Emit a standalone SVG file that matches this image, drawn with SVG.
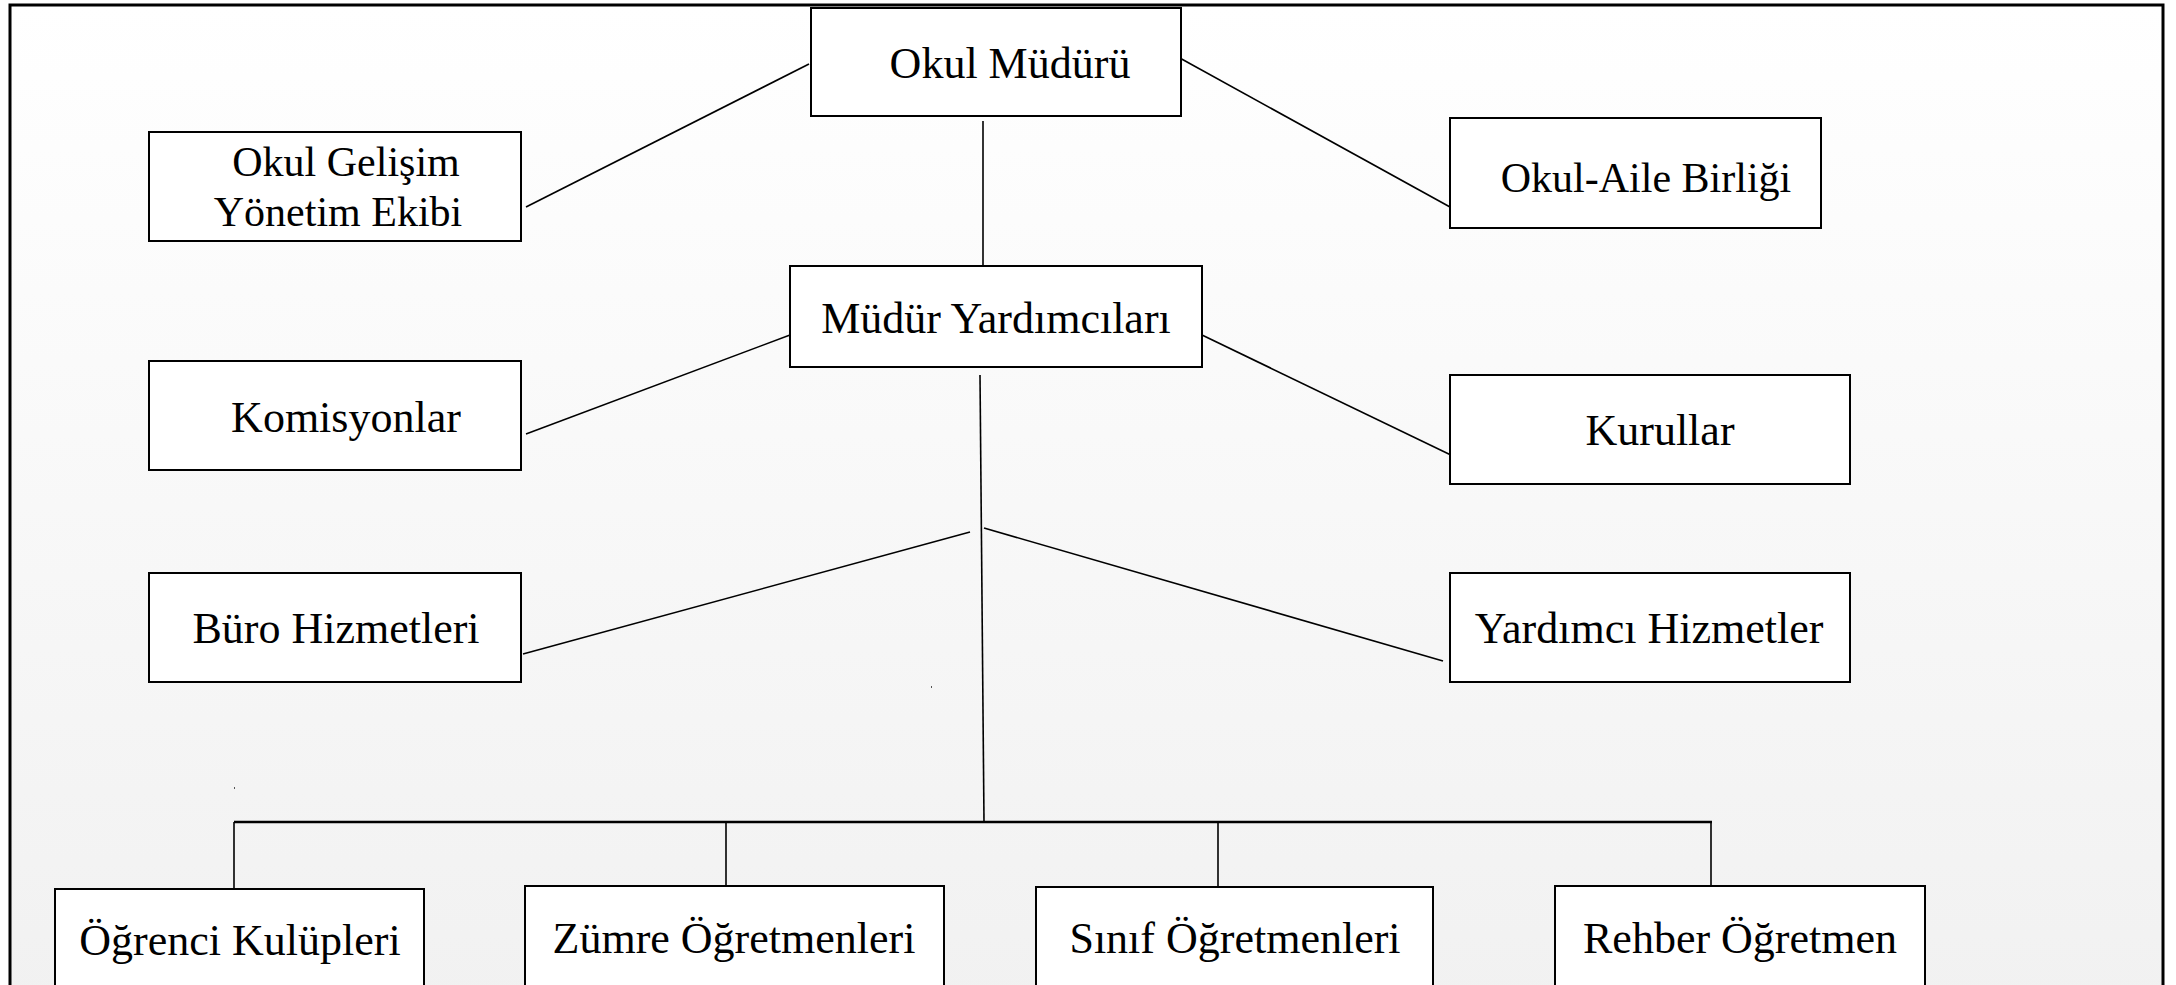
<svg xmlns="http://www.w3.org/2000/svg" width="2176" height="985" viewBox="0 0 2176 985">
<defs>
<linearGradient id="bg" x1="0" y1="0" x2="0" y2="1">
<stop offset="0" stop-color="#ffffff"/>
<stop offset="1" stop-color="#f1f1f1"/>
</linearGradient>
<style>
.box{fill:#ffffff;stroke:#000000;stroke-width:2}
.lbl{font-family:"Liberation Serif","Times New Roman",serif;font-size:44px;fill:#000000;text-anchor:middle}
.ln{stroke:#000000;stroke-width:1.6;fill:none}
.bus{stroke:#000000;stroke-width:2.4;fill:none}
</style>
</defs>
<rect x="0" y="0" width="2176" height="985" fill="#ffffff"/>
<rect id="frame" x="10" y="5" width="2153" height="1000" fill="url(#bg)" stroke="#000000" stroke-width="3"/>
<g id="connectors">
<line class="ln" x1="809" y1="64" x2="526" y2="207"/>
<line class="ln" x1="1178" y1="57" x2="1450" y2="207"/>
<line class="ln" x1="983" y1="121" x2="983" y2="266"/>
<line class="ln" x1="790" y1="335" x2="526" y2="434"/>
<line class="ln" x1="1202" y1="335" x2="1455" y2="457"/>
<line class="ln" x1="980" y1="375" x2="984" y2="822"/>
<line class="ln" x1="970" y1="532" x2="523" y2="654"/>
<line class="ln" x1="984" y1="528" x2="1443" y2="661"/>
<line class="bus" x1="234" y1="822" x2="1712" y2="822"/>
<line class="ln" x1="234" y1="822" x2="234" y2="889"/>
<line class="ln" x1="726" y1="822" x2="726" y2="889"/>
<line class="ln" x1="1218" y1="822" x2="1218" y2="889"/>
<line class="ln" x1="1711" y1="822" x2="1711" y2="889"/>
</g>
<rect x="931" y="686" width="1" height="2" fill="#555555"/>
<rect x="234" y="787" width="1" height="2" fill="#555555"/>
<g id="okul-muduru">
<rect class="box" x="811" y="8" width="370" height="108"/>
<text class="lbl" x="1010" y="78">Okul Müdürü</text>
</g>
<g id="okul-gelisim">
<rect class="box" x="149" y="132" width="372" height="109"/>
<text class="lbl" x="346" y="176" style="font-size:42px">Okul Gelişim</text>
<text class="lbl" x="338" y="226" style="font-size:42px">Yönetim Ekibi</text>
</g>
<g id="okul-aile">
<rect class="box" x="1450" y="118" width="371" height="110"/>
<text class="lbl" x="1646" y="192" style="font-size:42px">Okul-Aile Birliği</text>
</g>
<g id="mudur-yardimcilari">
<rect class="box" x="790" y="266" width="412" height="101"/>
<text class="lbl" x="996" y="333">Müdür Yardımcıları</text>
</g>
<g id="komisyonlar">
<rect class="box" x="149" y="361" width="372" height="109"/>
<text class="lbl" x="346" y="432">Komisyonlar</text>
</g>
<g id="kurullar">
<rect class="box" x="1450" y="375" width="400" height="109"/>
<text class="lbl" x="1660" y="445">Kurullar</text>
</g>
<g id="buro-hizmetleri">
<rect class="box" x="149" y="573" width="372" height="109"/>
<text class="lbl" x="336" y="643">Büro Hizmetleri</text>
</g>
<g id="yardimci-hizmetler">
<rect class="box" x="1450" y="573" width="400" height="109"/>
<text class="lbl" x="1649" y="643">Yardımcı Hizmetler</text>
</g>
<g id="ogrenci-kulupleri">
<rect class="box" x="55" y="889" width="369" height="130"/>
<text class="lbl" x="240" y="955">Öğrenci Kulüpleri</text>
</g>
<g id="zumre-ogretmenleri">
<rect class="box" x="525" y="886" width="419" height="130"/>
<text class="lbl" x="734" y="953">Zümre Öğretmenleri</text>
</g>
<g id="sinif-ogretmenleri">
<rect class="box" x="1036" y="887" width="397" height="130"/>
<text class="lbl" x="1235" y="953">Sınıf Öğretmenleri</text>
</g>
<g id="rehber-ogretmen">
<rect class="box" x="1555" y="886" width="370" height="130"/>
<text class="lbl" x="1740" y="953">Rehber Öğretmen</text>
</g>
</svg>
